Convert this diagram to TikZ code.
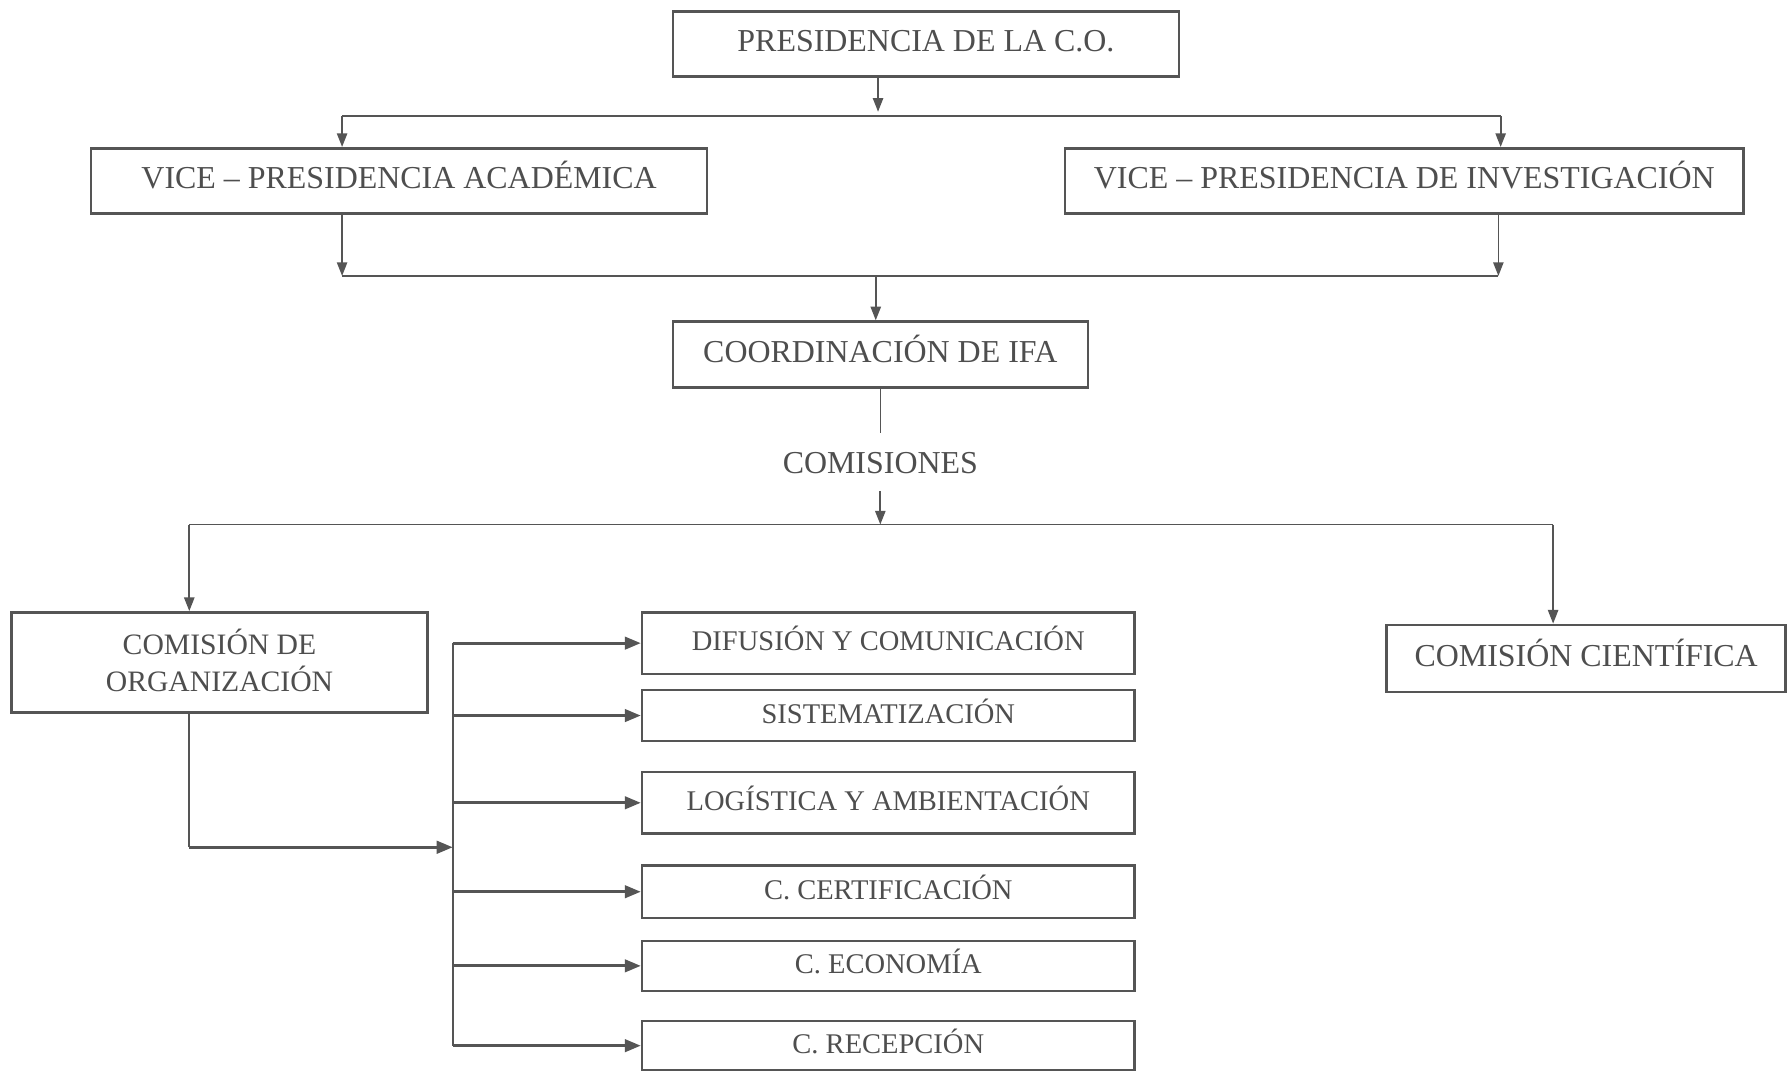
\documentclass[tikz,border=0pt]{standalone}
\usepackage{fontspec}
\setmainfont{Liberation Serif}
\usetikzlibrary{arrows.meta}
\definecolor{lc}{RGB}{85,85,85}
\definecolor{tc}{RGB}{78,78,78}
\tikzset{
  box/.style={draw=lc, line width=1.1pt, rectangle, inner sep=0pt, text=tc, font=\fontsize{14}{16.5}\selectfont, align=center},
  onel/.style={text height=0.9em, text depth=0.22em},
  sbox/.style={box, onel, minimum width=216pt, font=\fontsize{12.5}{15}\selectfont},
  ln/.style={draw=lc, line width=0.75pt},
  arr/.style={ln, -{Triangle[length=6pt,width=4.5pt]}},
  arrb/.style={draw=lc, line width=1.2pt, -{Triangle[length=7pt,width=5.5pt]}},
  thinln/.style={draw=lc, line width=0.4pt}
}
\begin{document}
\begin{tikzpicture}[x=0.5pt,y=-0.5pt]
\useasboundingbox[fill=white] (0,0) rectangle (1568,939);

% boxes
\node[box, onel, minimum width=222pt, minimum height=28.5pt] (pres) at (812,38.5) {PRESIDENCIA DE LA C.O.};
\node[box, onel, minimum width=270pt, minimum height=28.5pt] (vpa) at (350,158.5) {VICE -- PRESIDENCIA ACADÉMICA};
\node[box, onel, minimum width=297.5pt, minimum height=28.5pt] (vpi) at (1231.5,158.5) {VICE -- PRESIDENCIA DE INVESTIGACIÓN};
\node[box, onel, minimum width=182pt, minimum height=29pt] (coord) at (772,311) {COORDINACIÓN DE IFA};
\node[text=tc, font=\fontsize{14}{16.5}\selectfont, inner sep=0pt, minimum height=24pt] (com) at (772,406) {COMISIONES};
\node[box, minimum width=182.5pt, minimum height=44pt, font=\fontsize{13}{16}\selectfont] (corg) at (192.5,581) {\raisebox{2pt}{COMISIÓN DE}\\\raisebox{2pt}{ORGANIZACIÓN}};
\node[box, onel, minimum width=175pt, minimum height=29.5pt] (ccien) at (1391,577.5) {COMISIÓN CIENTÍFICA};

\node[sbox, minimum height=27pt] (dif) at (779,564) {DIFUSIÓN Y COMUNICACIÓN};
\node[sbox, minimum height=22.5pt] (sis) at (779,627.5) {SISTEMATIZACIÓN};
\node[sbox, minimum height=27pt] (log) at (779,704) {LOGÍSTICA Y AMBIENTACIÓN};
\node[sbox, minimum height=23pt] (cert) at (779,782) {C. CERTIFICACIÓN};
\node[sbox, minimum height=22pt] (eco) at (779,847) {C. ECONOMÍA};
\node[sbox, minimum height=21.5pt] (rec) at (779,917) {C. RECEPCIÓN};

% junction coordinates
\coordinate (j1) at (770,102);
\coordinate (j1l) at (300,102);
\coordinate (j1r) at (1316,102);
\coordinate (j2) at (768,242);
\coordinate (j2l) at (300,242);
\coordinate (j2r) at (1314,242);
\coordinate (c1) at (772,380);
\coordinate (j3) at (772,460);
\coordinate (j3l) at (166,460);
\coordinate (j3r) at (1362,460);
\coordinate (b0) at (166,743);
\coordinate (bus) at (397,743);

% connectors
\draw[arr, shorten >=2pt] (pres.south -| j1) -- (j1);
\draw[ln] (j1l) -- (j1r);
\draw[arr] (j1l) -- (vpa.north -| j1l);
\draw[arr] (j1r) -- (vpi.north -| j1r);

\draw[arr] (vpa.south -| j2l) -- (j2l);
\draw[arr] (vpi.south -| j2r) -- (j2r);
\draw[ln] (j2l) -- (j2r);
\draw[arr] (j2) -- (coord.north -| j2);

\draw[thinln] (coord.south -| c1) -- (c1);
\draw[arr] (com.south) -- (j3);
\draw[ln] (j3l) -- (j3r);
\draw[arr] (j3l) -- (corg.north -| j3l);
\draw[arr] (j3r) -- (ccien.north -| j3r);

\draw[ln] (corg.south -| b0) -- (b0);
\draw[arrb] (b0) -- (bus);
\draw[ln] (dif.west -| bus) -- (rec.west -| bus);
\foreach \n in {dif,sis,log,cert,eco,rec}{
  \draw[arrb] (\n.west -| bus) -- (\n.west);
}
\end{tikzpicture}
\end{document}
